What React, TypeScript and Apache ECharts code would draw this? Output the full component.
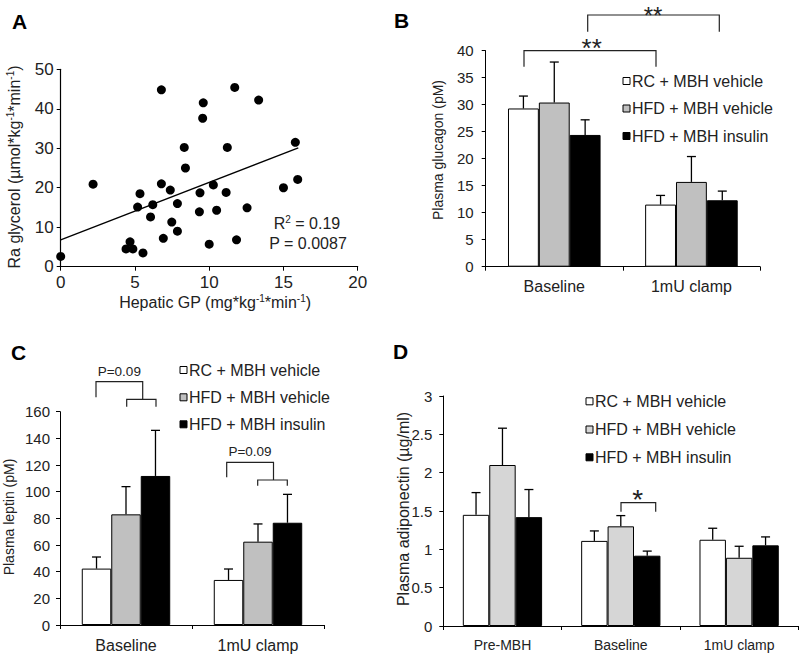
import React, { useEffect, useRef } from "react";
import * as echarts from "echarts";

const FONT = "'Liberation Sans', Arial, Helvetica, sans-serif";
const INK = "#222";

// ---------- Panel A: scatter ----------
const hepaticGP = [0.0, 2.18, 6.78, 11.72, 13.33, 9.6, 9.56, 8.32, 11.22, 15.8, 8.4, 6.78, 7.38, 5.34, 9.38, 10.28, 11.14, 15.0, 15.96, 5.18, 6.2, 7.86, 6.05, 9.34, 10.5, 12.55, 7.48, 7.86, 6.91, 10.0, 11.84, 4.67, 4.4, 4.86, 5.54];
const raGlycerol = [2.6, 20.9, 44.8, 45.4, 42.2, 41.5, 37.6, 30.2, 30.2, 31.5, 25.0, 21.0, 19.4, 18.5, 18.7, 20.7, 18.8, 20.0, 22.1, 15.1, 15.7, 16.0, 12.6, 13.9, 14.3, 14.9, 11.3, 9.0, 7.2, 5.7, 6.8, 6.3, 4.5, 4.5, 3.5];
const fitX = [0, 16];
const fitY = [6.8, 30.1];

// ---------- Groups ----------
const groupNames = ["RC + MBH vehicle", "HFD + MBH vehicle", "HFD + MBH insulin"];

// ---------- Panel B: glucagon ----------
const glucagonCats = ["Baseline", "1mU clamp"];
const glucagonRC = [29.3, 11.5];
const glucagonRCErr = [2.3, 1.7];
const glucagonHFDVeh = [30.4, 15.7];
const glucagonHFDVehErr = [7.5, 4.7];
const glucagonHFDIns = [24.4, 12.3];
const glucagonHFDInsErr = [2.8, 1.7];

// ---------- Panel C: leptin ----------
const leptinCats = ["Baseline", "1mU clamp"];
const leptinRC = [42.3, 33.8];
const leptinRCErr = [8.7, 8.2];
const leptinHFDVeh = [83.0, 62.5];
const leptinHFDVehErr = [20.8, 13.3];
const leptinHFDIns = [111.8, 76.7];
const leptinHFDInsErr = [34.2, 21.3];

// ---------- Panel D: adiponectin ----------
const adipoCats = ["Pre-MBH", "Baseline", "1mU clamp"];
const adipoRC = [1.45, 1.11, 1.125];
const adipoRCErr = [0.29, 0.13, 0.15];
const adipoHFDVeh = [2.1, 1.3, 0.89];
const adipoHFDVehErr = [0.48, 0.14, 0.15];
const adipoHFDIns = [1.42, 0.917, 1.052];
const adipoHFDInsErr = [0.36, 0.06, 0.11];

const GRAY_BC = "#c0c0c0";
const GRAY_D = "#d6d6d6";

function barSeries(idx: number, vals: number[][], grayColor: string, gap: string) {
  const colors = ["#ffffff", grayColor, "#000000"];
  return vals.map((v, g) => ({
    type: "bar",
    name: groupNames[g],
    xAxisIndex: idx,
    yAxisIndex: idx,
    data: v,
    barGap: "0%",
    barCategoryGap: gap,
    itemStyle: { color: colors[g], borderColor: "#000", borderWidth: 1 },
    emphasis: { disabled: true },
    z: 2,
  }));
}

function errSeries(idx: number, vals: number[][], errs: number[][], gapFrac: number) {
  const data: number[][] = [];
  vals.forEach((arr, g) => arr.forEach((v, c) => data.push([c, v, errs[g][c], g])));
  return {
    type: "custom",
    xAxisIndex: idx,
    yAxisIndex: idx,
    data,
    encode: { x: 0, y: 1 },
    z: 5,
    silent: true,
    renderItem: (_params: any, api: any) => {
      const c = api.value(0);
      const v = api.value(1);
      const e = api.value(2);
      const g = api.value(3);
      const base = api.coord([c, v]);
      const top = api.coord([c, v + e]);
      const band = api.size([1, 0])[0];
      const bw = (band * (1 - gapFrac)) / 3;
      const x = base[0] + (g - 1) * bw;
      const st = { stroke: "#000", lineWidth: 1.3 };
      return {
        type: "group",
        children: [
          { type: "line", shape: { x1: x, y1: base[1], x2: x, y2: top[1] }, style: st },
          { type: "line", shape: { x1: x - 4.5, y1: top[1], x2: x + 4.5, y2: top[1] }, style: st },
        ],
      };
    },
  };
}

function catAxis(idx: number, data: string[], fontSize: number) {
  return {
    type: "category",
    gridIndex: idx,
    data,
    axisLine: { show: true, lineStyle: { color: "#000", width: 1 } },
    axisTick: { show: true, inside: false, length: 4, alignWithLabel: false, lineStyle: { color: "#000" } },
    axisLabel: { color: INK, fontSize, margin: 12, fontFamily: FONT },
    splitLine: { show: false },
  };
}

function valAxis(idx: number, max: number, interval: number, fontSize: number, margin: number) {
  return {
    type: "value",
    gridIndex: idx,
    min: 0,
    max,
    interval,
    axisLine: { show: true, lineStyle: { color: "#000", width: 1 } },
    axisTick: { show: true, inside: false, length: 4, lineStyle: { color: "#000" } },
    axisLabel: { color: INK, fontSize, margin, fontFamily: FONT },
    splitLine: { show: false },
  };
}

function txt(x: number, y: number, text: string, fontSize: number, extra: any = {}) {
  return {
    type: "text",
    x,
    y,
    silent: true,
    ...extra,
    style: {
      text,
      fontSize,
      fontFamily: FONT,
      fill: INK,
      align: "center",
      verticalAlign: "middle",
      ...(extra.style || {}),
    },
  };
}

function legend(x: number, ys: number[], colors: string[]) {
  const els: any[] = [];
  ys.forEach((y, i) => {
    els.push({
      type: "rect",
      silent: true,
      shape: { x, y: y - 3.5, width: 7, height: 7 },
      style: { fill: colors[i], stroke: "#000", lineWidth: 1 },
    });
    els.push(txt(x + 9, y, groupNames[i], 16, { style: { align: "left" } }));
  });
  return els;
}

function poly(points: number[][]) {
  return {
    type: "polyline",
    silent: true,
    shape: { points },
    style: { stroke: "#222", lineWidth: 1.2, fill: null },
  };
}

const supRich = {
  n: { fontSize: 16, lineHeight: 17, fontFamily: FONT, fill: INK, color: INK },
  s: { fontSize: 10, lineHeight: 10, verticalAlign: "top", fontFamily: FONT, fill: INK, color: INK },
};

export default function App() {
  const ref = useRef<HTMLDivElement>(null);

  useEffect(() => {
    if (!ref.current) return;
    const chart = echarts.init(ref.current, undefined, { renderer: "svg" });

    const gapB = 0.325;
    const gapC = 0.33;
    const gapD = 0.33;

    const option: any = {
      animation: false,
      textStyle: { fontFamily: FONT, color: INK },
      grid: [
        { left: 60.7, top: 69.3, width: 297, height: 197.4, containLabel: false, outerBoundsMode: "none" },
        { left: 485.7, top: 50.7, width: 274.3, height: 216, containLabel: false, outerBoundsMode: "none" },
        { left: 60, top: 411.7, width: 264, height: 213.3, containLabel: false, outerBoundsMode: "none" },
        { left: 443.3, top: 396, width: 355, height: 230, containLabel: false, outerBoundsMode: "none" },
      ],
      xAxis: [
        {
          type: "value",
          gridIndex: 0,
          min: 0,
          max: 20,
          interval: 5,
          axisLine: { show: true, onZero: false, lineStyle: { color: "#000", width: 1.2 } },
          axisTick: { show: true, inside: false, length: 4, lineStyle: { color: "#000" } },
          axisLabel: { color: INK, fontSize: 17, margin: 7, fontFamily: FONT },
          splitLine: { show: false },
        },
        catAxis(1, glucagonCats, 16),
        catAxis(2, leptinCats, 16),
        catAxis(3, adipoCats, 14),
      ],
      yAxis: [
        {
          type: "value",
          gridIndex: 0,
          min: 0,
          max: 50,
          interval: 10,
          axisLine: { show: true, onZero: false, lineStyle: { color: "#000", width: 1.2 } },
          axisTick: { show: true, inside: false, length: 4, lineStyle: { color: "#000" } },
          axisLabel: { color: INK, fontSize: 17, margin: 7, fontFamily: FONT },
          splitLine: { show: false },
        },
        valAxis(1, 40, 5, 15, 12),
        valAxis(2, 160, 20, 15, 10),
        valAxis(3, 3, 0.5, 15, 11),
      ],
      series: [
        {
          type: "scatter",
          xAxisIndex: 0,
          yAxisIndex: 0,
          data: hepaticGP.map((x, i) => [x, raGlycerol[i]]),
          symbol: "circle",
          symbolSize: 9,
          itemStyle: { color: "#000", opacity: 1 },
          emphasis: { disabled: true },
          z: 3,
        },
        {
          type: "line",
          xAxisIndex: 0,
          yAxisIndex: 0,
          data: fitX.map((x, i) => [x, fitY[i]]),
          symbol: "none",
          lineStyle: { color: "#000", width: 1.3 },
          z: 2,
        },
        ...barSeries(1, [glucagonRC, glucagonHFDVeh, glucagonHFDIns], GRAY_BC, "32.5%"),
        errSeries(1, [glucagonRC, glucagonHFDVeh, glucagonHFDIns], [glucagonRCErr, glucagonHFDVehErr, glucagonHFDInsErr], gapB),
        ...barSeries(2, [leptinRC, leptinHFDVeh, leptinHFDIns], GRAY_BC, "33%"),
        errSeries(2, [leptinRC, leptinHFDVeh, leptinHFDIns], [leptinRCErr, leptinHFDVehErr, leptinHFDInsErr], gapC),
        ...barSeries(3, [adipoRC, adipoHFDVeh, adipoHFDIns], GRAY_D, "33%"),
        errSeries(3, [adipoRC, adipoHFDVeh, adipoHFDIns], [adipoRCErr, adipoHFDVehErr, adipoHFDInsErr], gapD),
      ],
      graphic: [
        // panel letters
        txt(19.5, 21, "A", 21, { style: { fontWeight: "bold", fill: "#000" } }),
        txt(401.5, 20, "B", 21, { style: { fontWeight: "bold", fill: "#000" } }),
        txt(18.5, 352, "C", 21, { style: { fontWeight: "bold", fill: "#000" } }),
        txt(400.5, 351.5, "D", 21, { style: { fontWeight: "bold", fill: "#000" } }),
        // Panel A titles
        {
          type: "text",
          x: 14,
          y: 167,
          rotation: Math.PI / 2,
          silent: true,
          style: {
            text: "{n|Ra glycerol (µmol*kg}{s|-1}{n|*min}{s|-1}{n|)}",
            rich: supRich,
            align: "center",
            verticalAlign: "middle",
            fontFamily: FONT,
            fill: INK,
          },
        },
        {
          type: "text",
          x: 215,
          y: 302,
          silent: true,
          style: {
            text: "{n|Hepatic GP (mg*kg}{s|-1}{n|*min}{s|-1}{n|)}",
            rich: supRich,
            align: "center",
            verticalAlign: "middle",
            fontFamily: FONT,
            fill: INK,
          },
        },
        {
          type: "text",
          x: 307,
          y: 223,
          silent: true,
          style: {
            text: "{n|R}{s|2}{n| = 0.19}",
            rich: supRich,
            align: "center",
            verticalAlign: "middle",
            fontFamily: FONT,
            fill: INK,
          },
        },
        txt(308, 243, "P = 0.0087", 16),
        // y titles
        txt(438, 150, "Plasma glucagon (pM)", 14, { rotation: Math.PI / 2 }),
        txt(9, 517, "Plasma leptin (pM)", 14, { rotation: Math.PI / 2 }),
        txt(403, 509, "Plasma adiponectin (µg/ml)", 16, { rotation: Math.PI / 2 }),
        // legends
        ...legend(623, [81, 108.5, 136], ["#fff", GRAY_BC, "#000"]),
        ...legend(180, [370, 397.3, 424.3], ["#fff", GRAY_BC, "#000"]),
        ...legend(586, [401.3, 429.5, 457.3], ["#fff", GRAY_D, "#000"]),
        // Panel B brackets
        poly([[524, 66.7], [524, 50.7], [656, 50.7], [656, 66.7]]),
        txt(591.7, 47.5, "**", 26),
        poly([[587.7, 31.7], [587.7, 15], [719.3, 15], [719.3, 31.7]]),
        txt(653, 15, "**", 24),
        // Panel C brackets
        poly([[96, 397.3], [96, 381.7], [142.7, 381.7], [142.7, 399.3]]),
        poly([[126.7, 406.7], [126.7, 399.3], [156, 399.3], [156, 406.7]]),
        txt(119.3, 371.7, "P=0.09", 13.5),
        poly([[226.7, 477.3], [226.7, 462.3], [273.5, 462.3], [273.5, 480]]),
        poly([[257.7, 485.7], [257.7, 480], [287.3, 480], [287.3, 485.7]]),
        txt(250, 451, "P=0.09", 13.5),
        // Panel D bracket
        poly([[621, 511.7], [621, 502.7], [655.7, 502.7], [655.7, 511.7]]),
        txt(637.7, 499.5, "*", 28),
      ],
    };

    chart.setOption(option);
    return () => chart.dispose();
  }, []);

  return (
    <div
      ref={ref}
      style={{ position: "absolute", left: 0, top: 0, width: 800, height: 655, background: "#fff" }}
    />
  );
}
